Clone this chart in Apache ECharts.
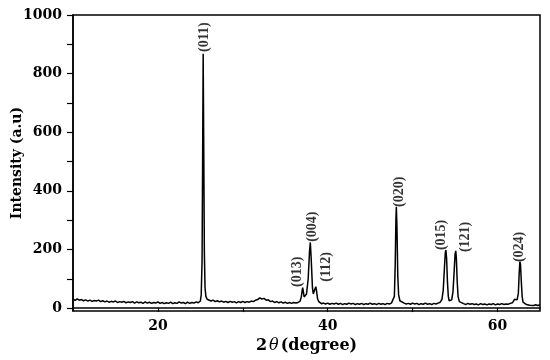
<!doctype html>
<html lang="en">
<head>
  <meta charset="UTF-8">
  <title>XRD</title>
</head>
<body style="margin:0;background:#fff">
<div id="main" style="width: 550px;height: 360px"></div>
<script src="https://cdn.jsdelivr.net/npm/echarts@6/dist/echarts.min.js"></script>
<script>
    // 2theta / intensity pairs
    const scanLow = [
        [10.0, 30], [10.25, 26], [10.5, 31], [10.75, 27], [11.0, 29], [11.25, 25], [11.5, 28], [11.75, 24],
        [12.0, 27], [12.25, 23], [12.5, 26], [12.75, 24], [13.0, 27], [13.25, 22], [13.5, 25], [13.75, 21],
        [14.0, 24], [14.25, 20], [14.5, 23], [14.75, 21], [15.0, 24], [15.25, 19], [15.5, 22], [15.75, 20],
        [16.0, 23], [16.25, 18], [16.5, 21], [16.75, 19], [17.0, 22], [17.25, 17], [17.5, 21], [17.75, 18],
        [18.0, 20], [18.25, 16], [18.5, 21], [18.75, 17], [19.0, 20], [19.25, 16], [19.5, 19], [19.75, 17],
        [20.0, 21], [20.25, 16], [20.5, 19], [20.75, 15], [21.0, 18], [21.25, 16], [21.5, 20], [21.75, 15],
        [22.0, 18], [22.25, 16], [22.5, 21], [22.75, 17], [23.0, 19], [23.25, 15], [23.5, 20], [23.75, 16],
        [24.0, 19], [24.25, 17], [24.5, 21], [24.75, 18], [25.0, 24]
    ]
    const peak011 = [
        [25.1, 45], [25.2, 160], [25.27, 520], [25.33, 868], [25.4, 540], [25.47, 190], [25.55, 70],
        [25.65, 40], [25.8, 30]
    ]
    const scanMid = [
        [26.0, 27], [26.25, 24], [26.5, 27], [26.75, 22], [27.0, 25], [27.25, 21], [27.5, 24], [27.75, 20],
        [28.0, 23], [28.25, 19], [28.5, 23], [28.75, 20], [29.0, 22], [29.25, 18], [29.5, 22], [29.75, 19],
        [30.0, 23], [30.25, 19], [30.5, 22], [30.75, 20], [31.0, 24], [31.25, 22], [31.5, 27], [31.75, 29],
        [32.0, 35], [32.25, 31], [32.5, 33], [32.75, 27], [33.0, 28], [33.25, 22], [33.5, 24], [33.75, 19],
        [34.0, 22], [34.25, 18], [34.5, 21], [34.75, 17], [35.0, 20], [35.25, 16], [35.5, 19], [35.75, 16],
        [36.0, 19], [36.25, 17], [36.5, 19], [36.75, 24]
    ]
    const peakTriplet = [
        [36.9, 40], [37.0, 62], [37.05, 70], [37.12, 58], [37.22, 38], [37.35, 36], [37.5, 48], [37.7, 100],
        [37.85, 190], [37.95, 224], [38.05, 170], [38.2, 70], [38.3, 48], [38.4, 52], [38.5, 66], [38.6, 73],
        [38.7, 55], [38.8, 32], [38.95, 22], [39.1, 18], [39.25, 15]
    ]
    const scanHigh = [
        [39.5, 17], [39.75, 14], [40.0, 17], [40.25, 13], [40.5, 16], [40.75, 14], [41.0, 17], [41.25, 13],
        [41.5, 16], [41.75, 12], [42.0, 15], [42.25, 13], [42.5, 17], [42.75, 14], [43.0, 16], [43.25, 12],
        [43.5, 15], [43.75, 13], [44.0, 16], [44.25, 12], [44.5, 15], [44.75, 13], [45.0, 17], [45.25, 13],
        [45.5, 15], [45.75, 12], [46.0, 16], [46.25, 13], [46.5, 15], [46.75, 12], [47.0, 16], [47.25, 14],
        [47.5, 17], [47.7, 22],
        [47.85, 40], [47.95, 150], [48.03, 300], [48.08, 346], [48.15, 280], [48.25, 110], [48.35, 45],
        [48.5, 25], [48.7, 19],
        [49.0, 17], [49.25, 14], [49.5, 16], [49.75, 13], [50.0, 17], [50.25, 14], [50.5, 16], [50.75, 12],
        [51.0, 15], [51.25, 13], [51.5, 17], [51.75, 13], [52.0, 15], [52.25, 12], [52.5, 16], [52.75, 14],
        [53.0, 17], [53.25, 20], [53.45, 30],
        [53.6, 60], [53.75, 140], [53.85, 190], [53.92, 198], [54.0, 170], [54.1, 90], [54.2, 40], [54.3, 25],
        [54.45, 22], [54.6, 28],
        [54.75, 55], [54.9, 130], [55.0, 185], [55.08, 195], [55.15, 170], [55.25, 90], [55.35, 40],
        [55.5, 22], [55.7, 17],
        [56.0, 15], [56.25, 12], [56.5, 16], [56.75, 13], [57.0, 15], [57.25, 12], [57.5, 14], [57.75, 11],
        [58.0, 15], [58.25, 12], [58.5, 14], [58.75, 11], [59.0, 14], [59.25, 12], [59.5, 15], [59.75, 11],
        [60.0, 14], [60.25, 12], [60.5, 15], [60.75, 12], [61.0, 14], [61.25, 13], [61.5, 16], [61.75, 18],
        [62.0, 30], [62.15, 26], [62.3, 28],
        [62.45, 50], [62.55, 120], [62.63, 158], [62.7, 150], [62.8, 90], [62.9, 40], [63.0, 20], [63.2, 14],
        [63.4, 12], [63.6, 13], [63.8, 10], [64.0, 12], [64.25, 9], [64.5, 11], [64.75, 9], [65.0, 11]
    ]
    // where each (hkl) label sits: [2theta, intensity at label foot, text]
    const peakLabels = [
        [25.5, 874, '(011)'], [36.4, 72, '(013)'], [38.25, 226, '(004)'], [39.8, 90, '(112)'],
        [48.47, 345, '(020)'], [53.4, 198, '(015)'], [56.24, 191, '(121)'], [62.6, 157, '(024)']
    ]
    const yTicks = [0, 100, 200, 300, 400, 500, 600, 700, 800, 900, 1000]
    const yLabels = [0, 200, 400, 600, 800, 1000]
    const xTicks = [20, 30, 40, 50, 60]
    const xLabels = [20, 40, 60]

    const pattern = scanLow.concat(peak011, scanMid, peakTriplet, scanHigh)
    const tickFont = {fontFamily: 'DejaVu Serif', fontWeight: 'bold', fontSize: 14, color: '#000'}

    let chart = echarts.init(document.querySelector('#main'))
    chart.setOption({
        backgroundColor: '#fff',
        animation: false,
        grid: {
            left: 73, right: 10, top: 15, bottom: 49,
            containLabel: false,
            outerBoundsMode: 'none',
            show: true, borderColor: '#000', borderWidth: 1.5
        },
        xAxis: {
            type: 'value',
            min: 10,
            max: 65,
            name: '{n|2}{t|θ}{n|(degree)}',
            nameLocation: 'middle',
            nameGap: 24,
            nameTextStyle: {
                rich: {
                    n: {fontFamily: 'DejaVu Serif', fontWeight: 'bold', fontSize: 16, color: '#000'},
                    t: {fontFamily: 'DejaVu Serif', fontStyle: 'italic', fontSize: 16, color: '#000', padding: [0, 2, 0, 2]}
                }
            },
            axisLine: {lineStyle: {color: '#000', width: 1.5}},
            axisTick: {show: true, inside: false, length: 4, customValues: xTicks, lineStyle: {color: '#000', width: 1.2}},
            axisLabel: Object.assign({customValues: xLabels, margin: 8, formatter: v => String(v)}, tickFont),
            splitLine: {show: false}
        },
        yAxis: {
            type: 'value',
            min: -10,
            max: 1000,
            name: 'Intensity (a.u)',
            nameLocation: 'middle',
            nameGap: 49,
            nameMoveOverlap: false,
            nameTextStyle: {fontFamily: 'DejaVu Serif', fontWeight: 'bold', fontSize: 14, color: '#000'},
            axisLine: {show: true, lineStyle: {color: '#000', width: 1.5}},
            axisTick: {show: true, inside: false, length: 6, customValues: yTicks, lineStyle: {color: '#000', width: 1.2}},
            axisLabel: Object.assign({customValues: yLabels, margin: 11, formatter: v => String(v)}, tickFont),
            splitLine: {show: false}
        },
        series: [
            {
                type: 'line',
                data: pattern,
                showSymbol: false,
                lineStyle: {color: '#000', width: 1.5},
                silent: true
            },
            {
                type: 'scatter',
                data: peakLabels.map(p => ({value: [p[0], p[1]], name: p[2]})),
                symbolSize: 0,
                silent: true,
                label: {
                    show: true,
                    formatter: '{b}',
                    position: 'top',
                    distance: 0,
                    rotate: 90,
                    align: 'left',
                    verticalAlign: 'middle',
                    fontFamily: 'Liberation Serif',
                    fontWeight: 'bold',
                    fontSize: 14,
                    color: '#000'
                }
            }
        ]
    })
</script>
</body>
</html>
